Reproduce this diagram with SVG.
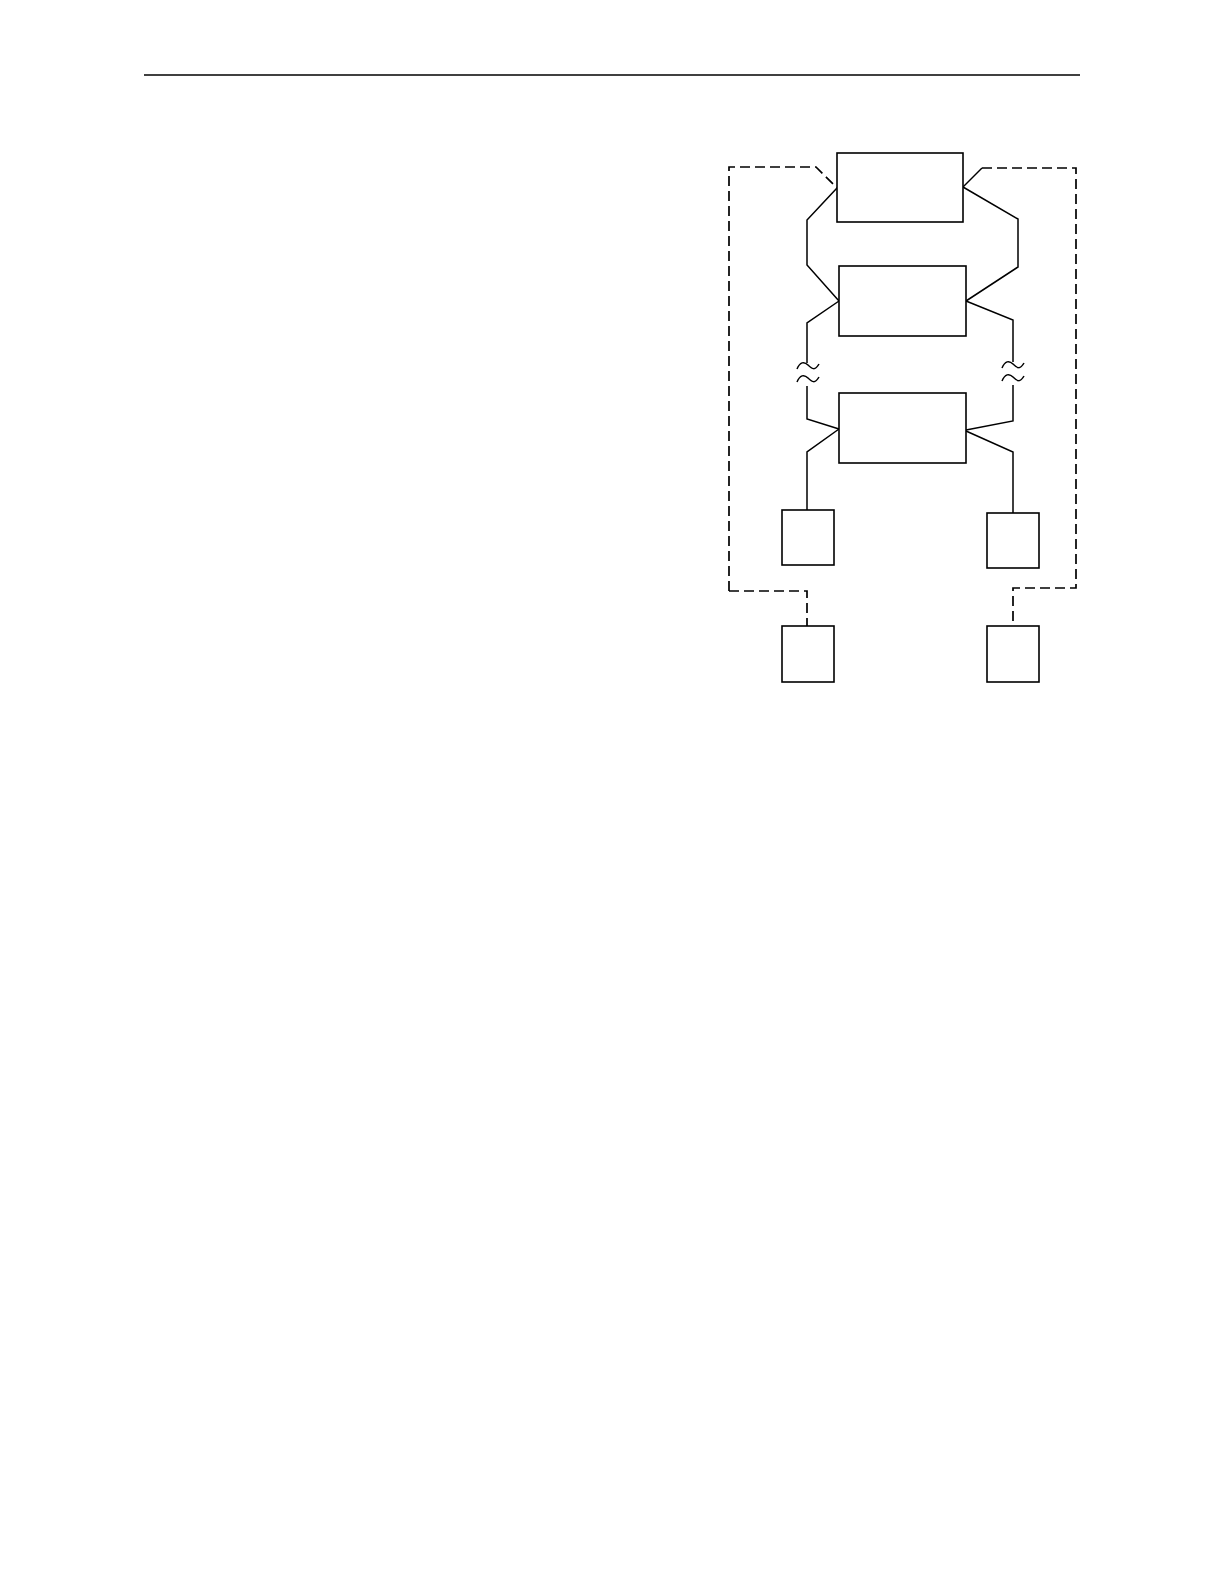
<svg xmlns="http://www.w3.org/2000/svg" width="1224" height="1584" viewBox="0 0 1224 1584">
<style>
.box{fill:#fff;stroke:#000;stroke-width:1.6}
.ln{fill:none;stroke:#000;stroke-width:1.5}
.dash{fill:none;stroke:#000;stroke-width:1.7;stroke-dasharray:10 5}
</style>
<rect width="1224" height="1584" fill="#fff"/>
<line x1="144" y1="75" x2="1080" y2="75" stroke="#000" stroke-width="1.5"/>
<g id="connectors">
<path class="dash" d="M729,591 L729,167 L816,167 L837,188"/>
<path class="ln" d="M963,187 L982,168"/>
<path class="dash" d="M982,168 L1076,168 L1076,588 L1013,588 L1013,626"/>
<path class="dash" d="M729,591 L807,591 L807,626"/>
<path class="ln" d="M837,188 L807,220 L807,265 L839,301"/>
<path class="ln" d="M963,187 L1018,219 L1018,267 L966,301"/>
<path class="ln" d="M839,301 L807,323 L807,363"/>
<path class="ln" d="M807,386 L807,419 L839,429"/>
<path class="ln" d="M966,301 L1013,320 L1013,362"/>
<path class="ln" d="M1013,385 L1013,421 L966,430"/>
<path class="ln" d="M839,429 L807,452 L807,510"/>
<path class="ln" d="M966,431 L1013,452 L1013,513"/>
<path class="ln" d="M797,369 C800,362 804,361 808,365 S815,371 819,364"/>
<path class="ln" d="M797,382 C800,375 804,374 808,378 S815,384 819,377"/>
<path class="ln" d="M1002,368 C1005,361 1009,360 1013,364 S1020,370 1024,363"/>
<path class="ln" d="M1002,381 C1005,374 1009,373 1013,377 S1020,383 1024,376"/>
</g>
<g id="node-top"><rect class="box" x="837" y="153" width="126" height="69"/></g>
<g id="node-mid"><rect class="box" x="839" y="266" width="127" height="70"/></g>
<g id="node-low"><rect class="box" x="839" y="393" width="127" height="70"/></g>
<g id="node-sl1"><rect class="box" x="782" y="510" width="52" height="55"/></g>
<g id="node-sr1"><rect class="box" x="987" y="513" width="52" height="55"/></g>
<g id="node-sl2"><rect class="box" x="782" y="626" width="52" height="56"/></g>
<g id="node-sr2"><rect class="box" x="987" y="626" width="52" height="56"/></g>
</svg>
